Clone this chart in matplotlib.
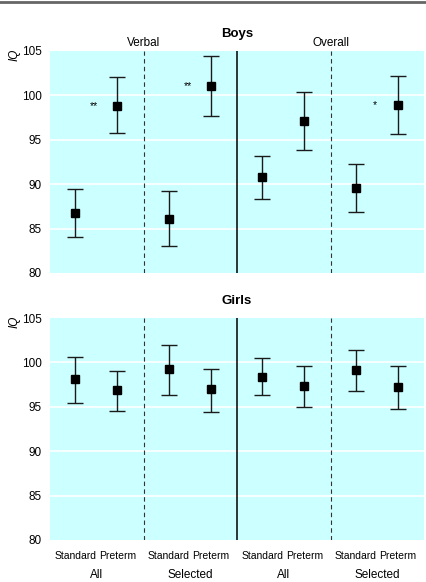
import matplotlib
matplotlib.use("Agg")
import matplotlib.pyplot as plt
from matplotlib.lines import Line2D

plt.rcParams['font.family'] = ['Liberation Sans Narrow', 'Liberation Sans', 'DejaVu Sans']

groups = ["All", "Selected", "All", "Selected"]
categories = ["Standard", "Preterm"]
sections = ["Verbal", "Overall"]
yticks = [80, 85, 90, 95, 100, 105]

# Boys: mean, lower, upper (order: Verbal All Std, Pre, Verbal Sel Std, Pre, Overall All Std, Pre, Overall Sel Std, Pre)
boys_mean = [86.7, 98.8, 86.1, 101.1, 90.8, 97.1, 89.6, 98.9]
boys_low = [84.0, 95.8, 83.0, 97.7, 88.3, 93.8, 86.9, 95.7]
boys_high = [89.4, 102.1, 89.2, 104.4, 93.2, 100.4, 92.3, 102.2]
boys_sig = ["", "**", "", "**", "", "", "", "*"]

girls_mean = [98.1, 96.9, 99.25, 96.95, 98.4, 97.3, 99.2, 97.2]
girls_low = [95.4, 94.55, 96.35, 94.45, 96.35, 95.0, 96.8, 94.7]
girls_high = [100.6, 99.0, 102.0, 99.25, 100.55, 99.6, 101.4, 99.6]
girls_sig = ["", "", "", "", "", "", "", ""]

offsets = [0.27, 0.72]
xpos = [g + offsets[c] for g in range(4) for c in range(2)]

fig = plt.figure(figsize=(4.26, 5.82), dpi=100)
fig.add_artist(Line2D([0, 1], [0.9965, 0.9965], color="#666666", lw=2, transform=fig.transFigure))

def panel(rect, title, mean, low, high, sig, show_x, show_sections):
    ax = fig.add_axes(rect)
    ax.set_facecolor("#ccffff")
    for s in ax.spines.values():
        s.set_visible(False)
    ax.set_xlim(0, 4)
    ax.set_ylim(80, 105)
    ax.set_yticks(yticks)
    ax.tick_params(axis='y', length=0, labelsize=8.5, pad=6)
    for y in yticks[1:-1]:
        ax.axhline(y, color="white", lw=1.2, zorder=1)
    ax.axvline(1, color="#333333", lw=0.8, ls=(0, (4, 3)), zorder=2)
    ax.axvline(3, color="#333333", lw=0.8, ls=(0, (4, 3)), zorder=2)
    ax.axvline(2, color="black", lw=1.1, zorder=2)
    yerr = [[m - l for m, l in zip(mean, low)], [h - m for m, h in zip(mean, high)]]
    ax.errorbar(xpos, mean, yerr=yerr, fmt="s", color="black", ms=6, capsize=6,
                elinewidth=1.0, capthick=1.0, ecolor="#1a1a1a", zorder=3)
    for x, m, s in zip(xpos, mean, sig):
        if s:
            ax.text(x - 0.25, m, s, ha="center", va="center", fontsize=7.5)
    ax.set_title(title, fontsize=9.5, fontweight="bold", pad=10,
                 family=['Liberation Sans', 'DejaVu Sans'])
    if show_sections:
        for xs, name in zip([1, 3], sections):
            ax.text(xs, 105.25, name, ha="center", va="bottom", fontsize=8.5)
    ax.text(-0.38, 104.6, "IQ", rotation=90, style="italic", fontsize=8.5, ha="center", va="center")
    if show_x:
        ax.set_xticks(xpos)
        ax.set_xticklabels(categories * 4, fontsize=7.5)
        ax.tick_params(axis='x', length=0, pad=8)
        for g, name in enumerate(groups):
            ax.text(g + 0.5, 76.7, name, ha="center", va="top", fontsize=8.5)
    else:
        ax.set_xticks([])
    return ax

panel([0.1174, 0.531, 0.878, 0.3814], "Boys", boys_mean, boys_low, boys_high, boys_sig, False, True)
panel([0.1174, 0.0722, 0.878, 0.3814], "Girls", girls_mean, girls_low, girls_high, girls_sig, True, False)

fig.savefig("out.png", dpi=100)
